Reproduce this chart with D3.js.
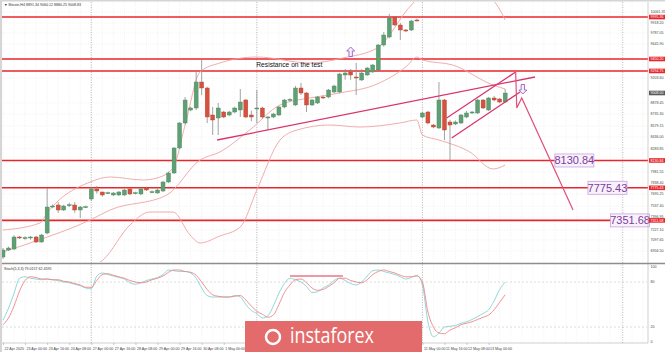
<!DOCTYPE html>
<html>
<head>
<meta charset="utf-8">
<script src="https://cdn.jsdelivr.net/npm/d3@7"></script>
<style>
  html, body { margin: 0; padding: 0; background: #fff; overflow: hidden; }
</style>
</head>
<body>
<div id="chart"></div>
<script>
// Bitcoin H4 chart with Bollinger bands, stochastic and forecast drawing

// candles: [open, high, low, close], one per H4 bar
const candles = [
  [6876, 6993, 6850, 6967], [6967, 7010, 6955, 6993], [6980, 7160, 6965, 7136], [7136, 7150, 7110, 7123],
  [7115, 7145, 7100, 7128], [7125, 7150, 7100, 7136], [7136, 7150, 7058, 7071], [7071, 7175, 7060, 7162],
  [7188, 7773, 7170, 7526], [7526, 7560, 7510, 7539], [7552, 7590, 7450, 7487], [7487, 7555, 7475, 7539],
  [7545, 7580, 7525, 7555], [7552, 7590, 7450, 7487], [7487, 7540, 7383, 7526], [7526, 7545, 7515, 7530],
  [7630, 7790, 7605, 7760], [7760, 7800, 7700, 7734], [7721, 7725, 7660, 7682], [7708, 7725, 7695, 7712],
  [7682, 7720, 7670, 7708], [7682, 7735, 7670, 7721], [7682, 7760, 7670, 7747], [7760, 7775, 7680, 7695],
  [7708, 7725, 7690, 7712], [7695, 7770, 7680, 7760], [7773, 7790, 7735, 7747], [7721, 7740, 7705, 7725],
  [7708, 7760, 7700, 7747], [7734, 7865, 7720, 7851], [7851, 7985, 7840, 7968], [7968, 8305, 7955, 8293],
  [8293, 8630, 8280, 8618], [8618, 8956, 8600, 8917], [8787, 8830, 8770, 8813], [8813, 9281, 8787, 9151],
  [9151, 9437, 8982, 9073], [9073, 9090, 8618, 8696], [8722, 8826, 8462, 8657], [8683, 8878, 8462, 8813],
  [8761, 8775, 8680, 8696], [8722, 8775, 8705, 8761], [8761, 8830, 8745, 8813], [8787, 9060, 8696, 8891],
  [8917, 8930, 8680, 8696], [8722, 8780, 8640, 8696], [8800, 9047, 8618, 8813], [8813, 8830, 8680, 8696],
  [8683, 8710, 8527, 8696], [8696, 8750, 8680, 8735], [8722, 8840, 8710, 8826], [8826, 8930, 8810, 8917],
  [8917, 8940, 8900, 8925], [8852, 9100, 8840, 9073], [9073, 9138, 8982, 9008], [9008, 9020, 8761, 8852],
  [8852, 8930, 8840, 8917], [8878, 8970, 8865, 8956], [8956, 8975, 8930, 8943], [8956, 9060, 8940, 9047],
  [9021, 9115, 9005, 9099], [9021, 9270, 9005, 9255], [9242, 9320, 9180, 9268], [9281, 9320, 9180, 9242],
  [9216, 9398, 8982, 9203], [9177, 9320, 9165, 9268], [9242, 9345, 9230, 9333], [9281, 9385, 9270, 9372],
  [9307, 9645, 9295, 9632], [9632, 9800, 9610, 9762], [9736, 10035, 9720, 9983], [9996, 10010, 9880, 9892],
  [9892, 9918, 9697, 9827], [9827, 9840, 9800, 9814], [9827, 9960, 9814, 9944], [9957, 9975, 9940, 9950],
  [8696, 8765, 8680, 8748], [8761, 8775, 8600, 8618], [8592, 8605, 8550, 8566], [8553, 9151, 8540, 8917],
  [8917, 8930, 8397, 8527], [8631, 8660, 8137, 8592], [8605, 8650, 8590, 8631], [8618, 8735, 8605, 8722],
  [8696, 8775, 8680, 8748], [8748, 8775, 8735, 8761], [8748, 8930, 8735, 8917], [8917, 8930, 8800, 8813],
  [8787, 8956, 8775, 8943], [8943, 8970, 8900, 8917], [8930, 8945, 8875, 8891], [8891, 9060, 8880, 9008]
];

// Bollinger bands: [bar index, price]
const bbUpper = [[0, 7227], [6.7, 7318], [8, 7448], [15.8, 7851], [19.4, 7916], [25.4, 7877], [27.9, 7903],
  [30.8, 8033], [33, 8592], [35.7, 9281], [39.3, 9398], [46, 9476], [55.6, 9398], [61.6, 9463], [67.8, 9593],
  [73.2, 10087], [75, 10250], [76, 10412], [80, 10321], [85, 10282], [88.6, 10217], [91, 9957]];
const bbMiddle = [[0, 6941], [4.9, 7058], [15.8, 7357], [19.4, 7487], [29.7, 7682], [35.7, 8137], [39.3, 8241],
  [44.7, 8527], [50.2, 8852], [55.6, 8943], [61, 9008], [67.8, 9125], [73.2, 9360], [75, 9476], [76, 9437],
  [81.5, 9372], [88.8, 9112], [91, 9060]];
const bbLower = [[9.9, 6642], [15.8, 6733], [18.1, 6837], [23, 7292], [26.6, 7461], [30.8, 7461], [33.9, 7162],
  [35.7, 7058], [39.3, 7149], [43, 7266], [46, 7747], [50.2, 8397], [53.3, 8527], [59.2, 8592], [64.7, 8566],
  [71.9, 8618], [75, 8657], [76, 8462], [79, 8397], [84.6, 8241], [88.8, 8020], [91, 8072]];

// Stochastic %K and %D per bar
const stochK = [29, 45, 65, 85, 87, 85, 84, 83, 84, 83, 82, 80, 79, 77, 75, 72, 71, 88, 92, 90, 88, 86, 84, 79,
  77, 79, 82, 84, 86, 90, 96, 95, 94, 94, 92, 85, 72, 62, 60, 60, 60, 60, 62, 60, 50, 42, 38, 32, 35, 48, 65, 78,
  85, 83, 80, 74, 66, 67, 72, 76, 82, 85, 82, 78, 76, 80, 88, 95, 96, 94, 92, 90, 87, 84, 86, 89, 76, 27, 7, 12,
  20, 21, 22, 25, 27, 30, 34, 38, 43, 55, 70, 80];
const stochD = [23, 32, 48, 68, 82, 87, 86, 84, 84, 83, 83, 81, 80, 78, 76, 73, 73, 82, 90, 91, 89, 87, 85, 82,
  80, 79, 80, 83, 85, 88, 93, 96, 96, 94, 93, 89, 80, 70, 63, 61, 60, 60, 61, 62, 56, 48, 41, 37, 33, 36, 50, 66,
  76, 83, 84, 79, 72, 69, 70, 74, 79, 85, 85, 82, 80, 79, 83, 90, 94, 96, 94, 92, 89, 87, 87, 88, 80, 40, 20, 12,
  11, 16, 19, 23, 25, 27, 30, 33, 36, 43, 53, 63];
const stochLevels = [80, 20];
const stochTicks = [100, 80, 20, 0];
const stochMark = [[52, 88], [61.6, 88]];

// horizontal support / resistance levels
const levels = [9995.36, 9450.20, 9294.75, 8130.84, 7775.43, 7351.68];
const targets = [8130.84, 7775.43, 7351.68];
const targetIdx = [100, 106, 110.1];

// drawn lines: [bar index, price]
const trendLine = [[38.8, 8397], [96.4, 9216]];
const wedgeUpper = [[80.4, 8683], [92.9, 9281]];
const wedgeLower = [[81.3, 8423], [93.7, 9021]];
const forecast = [[92.9, 9281], [93.1, 8813], [94, 8943], [103.3, 7487]];
const upArrow = [63, 9541];
const downArrow = [94.2, 9060];
const noteText = "Resistance on the test";
const notePos = [45.9, 9346];

// axes
const priceTicks = [10061.35, 9918.20, 9787.05, 9645.90, 9203.60, 8878.45, 8735.30, 8579.15, 8436.00,
  8283.85, 7981.55, 7838.40, 7695.25, 7537.40, 7396.95, 7227.10, 7097.65, 6956.50];
const timeIdx = d3.range(0, 89, 4);
const timeLabels = ["22 Apr 2020", "23 Apr 00:00", "23 Apr 16:00", "24 Apr 08:00", "27 Apr 00:00",
  "27 Apr 16:00", "28 Apr 08:00", "29 Apr 00:00", "29 Apr 16:00", "30 Apr 08:00", "1 May 00:00",
  "1 May 16:00", "4 May 08:00", "5 May 00:00", "5 May 16:00", "6 May 08:00", "7 May 00:00", "7 May 16:00",
  "8 May 08:00", "11 May 00:00", "11 May 16:00", "12 May 08:00", "13 May 00:00"];
const separators = [16, 46, 76, 112.3];
const header = "\u25BC Bitcoin,H4  8891.34 9060.12 8880.25 9008.83";
const stochTitle = "Stoch(5,3,3) 79.0157 62.4595";

// layout
const width = 665, height = 352;
const left = 2, right = 647;
const mainTop = 2, mainBottom = 262, subTop = 265, subBottom = 343;
const logoBox = { x: 245, y: 321, w: 177, h: 31 };

const x = d3.scaleLinear().domain([0, 116.7]).range([3, 647]);
const y = d3.scaleLinear().domain([6811, 10191]).range([mainBottom, mainTop]);
const ys = d3.scaleLinear().domain([0, 100]).range([342, 267]);

const svg = d3.select("#chart")
  .append("svg")
  .attr("width", width)
  .attr("height", height)
  .style("display", "block")
  .style("font-family", "Arial, 'Liberation Sans', sans-serif");

svg.append("rect").attr("width", width).attr("height", height).attr("fill", "#ffffff");

const defs = svg.append("defs");
defs.append("clipPath").attr("id", "clipMain").append("rect")
  .attr("x", left).attr("y", mainTop).attr("width", right - left).attr("height", mainBottom - mainTop);
defs.append("clipPath").attr("id", "clipSub").append("rect")
  .attr("x", left).attr("y", subTop).attr("width", right - left).attr("height", subBottom - subTop);

// grid
const gridIdx = d3.range(0, 117, 2);
svg.append("g").selectAll("line").data(gridIdx).enter().append("line")
  .attr("x1", d => x(d)).attr("x2", d => x(d))
  .attr("y1", mainTop).attr("y2", mainBottom)
  .attr("stroke", "#ececec").attr("stroke-width", 0.6).attr("stroke-dasharray", "1,1");
svg.append("g").selectAll("line").data(gridIdx).enter().append("line")
  .attr("x1", d => x(d)).attr("x2", d => x(d))
  .attr("y1", subTop).attr("y2", subBottom)
  .attr("stroke", "#ececec").attr("stroke-width", 0.6).attr("stroke-dasharray", "1,1");
svg.append("g").selectAll("line").data(priceTicks).enter().append("line")
  .attr("x1", left).attr("x2", right)
  .attr("y1", d => y(d)).attr("y2", d => y(d))
  .attr("stroke", "#ececec").attr("stroke-width", 0.6).attr("stroke-dasharray", "1,1");

// stochastic 80 / 20 levels
svg.append("g").selectAll("line").data(stochLevels).enter().append("line")
  .attr("x1", left).attr("x2", right)
  .attr("y1", d => ys(d)).attr("y2", d => ys(d))
  .attr("stroke", "#c8c8c8").attr("stroke-width", 0.6).attr("stroke-dasharray", "2,2");

// period separators
svg.append("g").selectAll("line").data(separators).enter().append("line")
  .attr("x1", d => x(d)).attr("x2", d => x(d))
  .attr("y1", mainTop).attr("y2", subBottom)
  .attr("stroke", "#a8a8a8").attr("stroke-width", 0.8).attr("stroke-dasharray", "1,1.5");

// horizontal levels
svg.append("g").selectAll("line").data(levels).enter().append("line")
  .attr("x1", left).attr("x2", right + 1)
  .attr("y1", d => y(d)).attr("y2", d => y(d))
  .attr("stroke", "#e8262b").attr("stroke-width", 1.6);

// Bollinger bands
const main = svg.append("g").attr("clip-path", "url(#clipMain)");
const bbLine = d3.line().x(d => x(d[0])).y(d => y(d[1])).curve(d3.curveMonotoneX);
[bbUpper, bbMiddle, bbLower].forEach(band => {
  main.append("path").datum(band)
    .attr("d", bbLine)
    .attr("fill", "none")
    .attr("stroke", "#f0a3a3")
    .attr("stroke-width", 0.9);
});

// candles
const bar = main.selectAll("g.candle").data(candles).enter().append("g").attr("class", "candle");
bar.append("line")
  .attr("x1", (d, i) => x(i)).attr("x2", (d, i) => x(i))
  .attr("y1", d => y(d[1])).attr("y2", d => y(d[2]))
  .attr("stroke", "#8a8a8a").attr("stroke-width", 0.8);
bar.append("rect")
  .attr("x", (d, i) => x(i) - 2)
  .attr("width", 4)
  .attr("y", d => y(Math.max(d[0], d[3])))
  .attr("height", d => Math.max(1, Math.abs(y(d[0]) - y(d[3]))))
  .attr("fill", d => d[3] >= d[0] ? "#5e9f74" : "#d4523f")
  .attr("stroke", d => d[3] >= d[0] ? "#4e8a63" : "#b94535")
  .attr("stroke-width", 0.4);

// trend lines and wedge
const straight = d3.line().x(d => x(d[0])).y(d => y(d[1]));
[trendLine, wedgeUpper, wedgeLower].forEach(seg => {
  main.append("path").datum(seg)
    .attr("d", straight)
    .attr("fill", "none")
    .attr("stroke", "#d8346e")
    .attr("stroke-width", 1.3);
});
main.append("path").datum(forecast)
  .attr("d", straight)
  .attr("fill", "none")
  .attr("stroke", "#e0507a")
  .attr("stroke-width", 1.2);

// hollow arrows
const arrowShape = "M0,-5 L4,-1 L1.7,-1 L1.7,4.5 L-1.7,4.5 L-1.7,-1 L-4,-1 Z";
svg.append("path").attr("d", arrowShape)
  .attr("transform", `translate(${x(upArrow[0])},${y(upArrow[1])})`)
  .attr("fill", "#f6effb").attr("stroke", "#9d5cc6").attr("stroke-width", 0.9);
svg.append("path").attr("d", arrowShape)
  .attr("transform", `translate(${x(downArrow[0])},${y(downArrow[1])}) rotate(180)`)
  .attr("fill", "#f6effb").attr("stroke", "#9d5cc6").attr("stroke-width", 0.9);

// note text
svg.append("text")
  .attr("x", x(notePos[0])).attr("y", y(notePos[1]))
  .attr("textLength", 66).attr("lengthAdjust", "spacingAndGlyphs")
  .style("font-size", "7.5px").attr("fill", "#111")
  .text(noteText);

// target labels
targets.forEach((t, k) => {
  const tx = x(targetIdx[k]);
  const g = svg.append("g");
  g.append("rect")
    .attr("x", tx).attr("y", y(t) - 6.5)
    .attr("width", 39).attr("height", 13)
    .attr("fill", "#f7f1fb").attr("stroke", "#c9a3de").attr("stroke-width", 0.8);
  g.append("text")
    .attr("x", tx + 19.5).attr("y", y(t) + 4)
    .attr("text-anchor", "middle")
    .style("font-size", "11px")
    .attr("fill", "#7e3c9c")
    .text(t.toFixed(2));
});

// right price axis
const axisG = svg.append("g").attr("transform", `translate(${right + 1},0)`);
axisG.append("line").attr("y1", mainTop).attr("y2", subBottom).attr("stroke", "#b0b0b0").attr("stroke-width", 0.6);
axisG.selectAll("text.tick").data(priceTicks).enter().append("text")
  .attr("x", 2.5).attr("y", d => y(d) + 1.3)
  .style("font-size", "3.6px").attr("fill", "#444")
  .text(d => d.toFixed(2));
levels.forEach(l => {
  axisG.append("rect").attr("x", 1).attr("y", y(l) - 2.3).attr("width", 16).attr("height", 4.6).attr("fill", "#e8262b");
  axisG.append("text").attr("x", 2.5).attr("y", y(l) + 1.3)
    .style("font-size", "3.6px").attr("fill", "#fff").text(l.toFixed(2));
});
const lastClose = candles[candles.length - 1][3];
axisG.append("rect").attr("x", 1).attr("y", y(lastClose) - 2.3).attr("width", 16).attr("height", 4.6).attr("fill", "#5a5a5a");
axisG.append("text").attr("x", 2.5).attr("y", y(lastClose) + 1.3)
  .style("font-size", "3.6px").attr("fill", "#fff").text(lastClose.toFixed(2));

// stochastic panel
const sub = svg.append("g").attr("clip-path", "url(#clipSub)");
const stLine = d3.line().x((d, i) => x(i)).y(d => ys(d)).curve(d3.curveMonotoneX);
sub.append("path").datum(stochK).attr("d", stLine)
  .attr("fill", "none").attr("stroke", "#82d3d6").attr("stroke-width", 0.9);
sub.append("path").datum(stochD).attr("d", stLine)
  .attr("fill", "none").attr("stroke", "#f08585").attr("stroke-width", 0.9);
sub.append("path").datum(stochMark)
  .attr("d", d3.line().x(d => x(d[0])).y(d => ys(d[1])))
  .attr("stroke", "#e2354a").attr("stroke-width", 1.1);

axisG.selectAll("text.st").data(stochTicks).enter().append("text")
  .attr("x", 2.5).attr("y", d => ys(d) + 1.3)
  .style("font-size", "3.6px").attr("fill", "#444")
  .text(d => d);

svg.append("text").attr("x", 4).attr("y", 270)
  .style("font-size", "3.6px").attr("fill", "#333").text(stochTitle);
svg.append("text").attr("x", 4).attr("y", 6)
  .style("font-size", "3.6px").attr("fill", "#333").text(header);

// panel separator and frame
svg.append("line").attr("x1", 0).attr("x2", width).attr("y1", 263.5).attr("y2", 263.5)
  .attr("stroke", "#8d8d8d").attr("stroke-width", 1.4);
svg.append("rect").attr("x", 0).attr("y", 0).attr("width", 2).attr("height", height).attr("fill", "#d5d5d5");
svg.append("rect").attr("x", 0).attr("y", 0).attr("width", width).attr("height", 1.5).attr("fill", "#d5d5d5");
svg.append("line").attr("x1", left).attr("x2", right + 1).attr("y1", subBottom).attr("y2", subBottom)
  .attr("stroke", "#b0b0b0").attr("stroke-width", 0.6);

// time axis: labels under the watermark are hidden in the original
const shownIdx = timeIdx.filter(d => x(d) < logoBox.x - 18 || x(d) > logoBox.x + logoBox.w);
const timeAxis = d3.axisBottom(x).tickValues(shownIdx).tickSize(2)
  .tickFormat(d => timeLabels[timeIdx.indexOf(d)]);
const tg = svg.append("g").attr("transform", `translate(0,${subBottom})`).call(timeAxis);
tg.select(".domain").remove();
tg.selectAll("line").attr("stroke", "#999").attr("stroke-width", 0.5);
tg.selectAll("text").attr("text-anchor", "start").attr("dx", 1).attr("y", 4.5)
  .style("font-size", "3.6px").attr("fill", "#444");

// watermark
const logo = svg.append("g");
logo.append("rect").attr("x", logoBox.x).attr("y", logoBox.y).attr("width", logoBox.w).attr("height", logoBox.h)
  .attr("fill", "#e46b6b");
logo.append("circle").attr("cx", 273).attr("cy", 337).attr("r", 7)
  .attr("fill", "none").attr("stroke", "#fff").attr("stroke-width", 2.5);
logo.append("text").attr("x", 290).attr("y", 343)
  .attr("textLength", 84).attr("lengthAdjust", "spacingAndGlyphs")
  .style("font-size", "22px").style("font-family", "'Open Sans', sans-serif")
  .attr("fill", "#fff").text("instaforex");
</script>
</body>
</html>
